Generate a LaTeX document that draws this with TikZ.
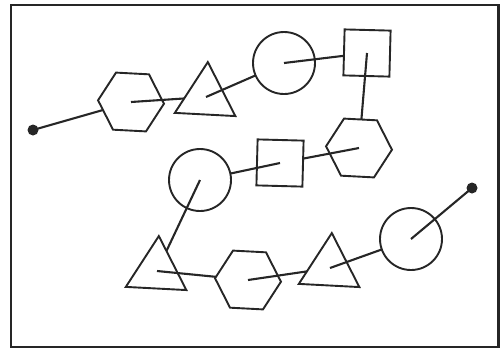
\documentclass[tikz,border=0pt]{standalone}
\usetikzlibrary{shapes.geometric}
\begin{document}
\begin{tikzpicture}[x=1pt,y=-1pt,
  shp/.style={draw=black!85,line width=1.9pt,inner sep=0pt,outer sep=0pt,fill=white},
  hexa/.style={shp,regular polygon,regular polygon sides=6,minimum size=66pt,rotate=-3},
  tria/.style={shp,regular polygon,regular polygon sides=3,minimum size=70pt,rotate=-3},
  circ/.style={shp,circle,minimum size=62pt},
  squa/.style={shp,rectangle,minimum size=46pt,rotate=-1.5},
  dot/.style={circle,fill=black!85,inner sep=0pt,minimum size=11pt},
  link/.style={draw=black!85,line width=2.1pt}]
\useasboundingbox (0,0) rectangle (500,349);
\draw[line width=2.2pt,draw=black!85] (11,5) rectangle (498.5,347);
% shapes
\node[dot]  (d1) at (33,130) {};
\node[hexa] (h1) at (131,102) {};
\node[tria] (t1) at (206,97) {};
\node[circ] (c1) at (284,63) {};
\node[squa] (s1) at (367,53) {};
\node[hexa] (h2) at (359,148) {};
\node[squa] (s2) at (280,163) {};
\node[circ] (c2) at (200,180) {};
\node[tria] (t2) at (157,271) {};
\node[hexa] (h3) at (248,280) {};
\node[tria] (t3) at (330,268) {};
\node[circ] (c3) at (411,239) {};
\node[dot]  (d2) at (472,188) {};
% connectors
\draw[link] (d1.center) -- (h1);
\draw[link] (h1.center) -- (t1);
\draw[link] (t1.center) -- (c1);
\draw[link] (c1.center) -- (s1);
\draw[link] (s1.center) -- (h2);
\draw[link] (h2.center) -- (s2);
\draw[link] (s2.center) -- (c2);
\draw[link] (c2.center) -- (t2);
\draw[link] (t2.center) -- (h3);
\draw[link] (h3.center) -- (t3);
\draw[link] (t3.center) -- (c3);
\draw[link] (c3.center) -- (d2.center);
\end{tikzpicture}
\end{document}
